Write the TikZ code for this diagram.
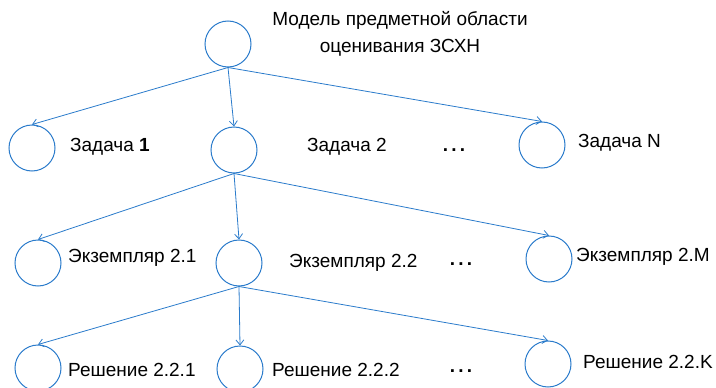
\documentclass[tikz,border=0pt]{standalone}
\usepackage{fontspec}
\setmainfont{Liberation Sans}
\usetikzlibrary{arrows.meta}
\definecolor{lineblue}{HTML}{2A7BCB}
\begin{document}
\begin{tikzpicture}[x=1pt,y=-1pt,
  circ/.style={circle,draw=lineblue,line width=1pt,minimum size=46pt,inner sep=0pt},
  lbl/.style={anchor=west,inner sep=0pt,font=\fontsize{19}{22}\selectfont},
  dots/.style={inner sep=0pt,font=\fontsize{19}{22}\selectfont\bfseries},
  edge/.style={draw=lineblue,line width=0.8pt,-{Straight Barb[length=5pt,width=8pt]}}]
\useasboundingbox (0,0) rectangle (716,388);
\clip (0,0) rectangle (716,388);
% nodes
\node[circ] (root) at (228,44) {};
\node[inner sep=0pt,align=center,font=\fontsize{19}{27}\selectfont] (rootl) at (400,34) {Модель предметной области\\оценивания ЗСХН};

\node[circ] (t1) at (32,148) {};
\node[lbl] (t1l) at (70,147) {Задача \textbf{1}};
\node[circ] (t2) at (234,150) {};
\node[lbl] (t2l) at (307,147) {Задача 2};
\node[dots] (d1) at (454,150) {.\,.\,.};
\node[circ] (tn) at (542,145) {};
\node[lbl] (tnl) at (578,143) {Задача N};

\node[circ] (e1) at (38,263) {};
\node[lbl] (e1l) at (68,258) {Экземпляр 2.1};
\node[circ] (e2) at (239,263) {};
\node[lbl] (e2l) at (289,263) {Экземпляр 2.2};
\node[dots] (d2) at (461,264) {.\,.\,.};
\node[circ] (em) at (549,259) {};
\node[lbl] (eml) at (576,257) {Экземпляр 2.M};

\node[circ] (r1) at (38,368) {};
\node[lbl] (r1l) at (68,370) {Решение 2.2.1};
\node[circ] (r2) at (240,369) {};
\node[lbl] (r2l) at (272,370) {Решение 2.2.2};
\node[dots] (d3) at (461,371) {.\,.\,.};
\node[circ] (rk) at (548,364) {};
\node[lbl] (rkl) at (583,362) {Решение 2.2.K};
% edges
\draw[edge] (root.south) -- (t1.north);
\draw[edge] (root.south) -- (t2.north);
\draw[edge] (root.south) -- (tn.north);
\draw[edge] (t2.south) -- (e1.north);
\draw[edge] (t2.south) -- (e2.north);
\draw[edge] (t2.south) -- (em.north);
\draw[edge] (e2.south) -- (r1.north);
\draw[edge] (e2.south) -- (r2.north);
\draw[edge] (e2.south) -- (rk.north);
\end{tikzpicture}
\end{document}
